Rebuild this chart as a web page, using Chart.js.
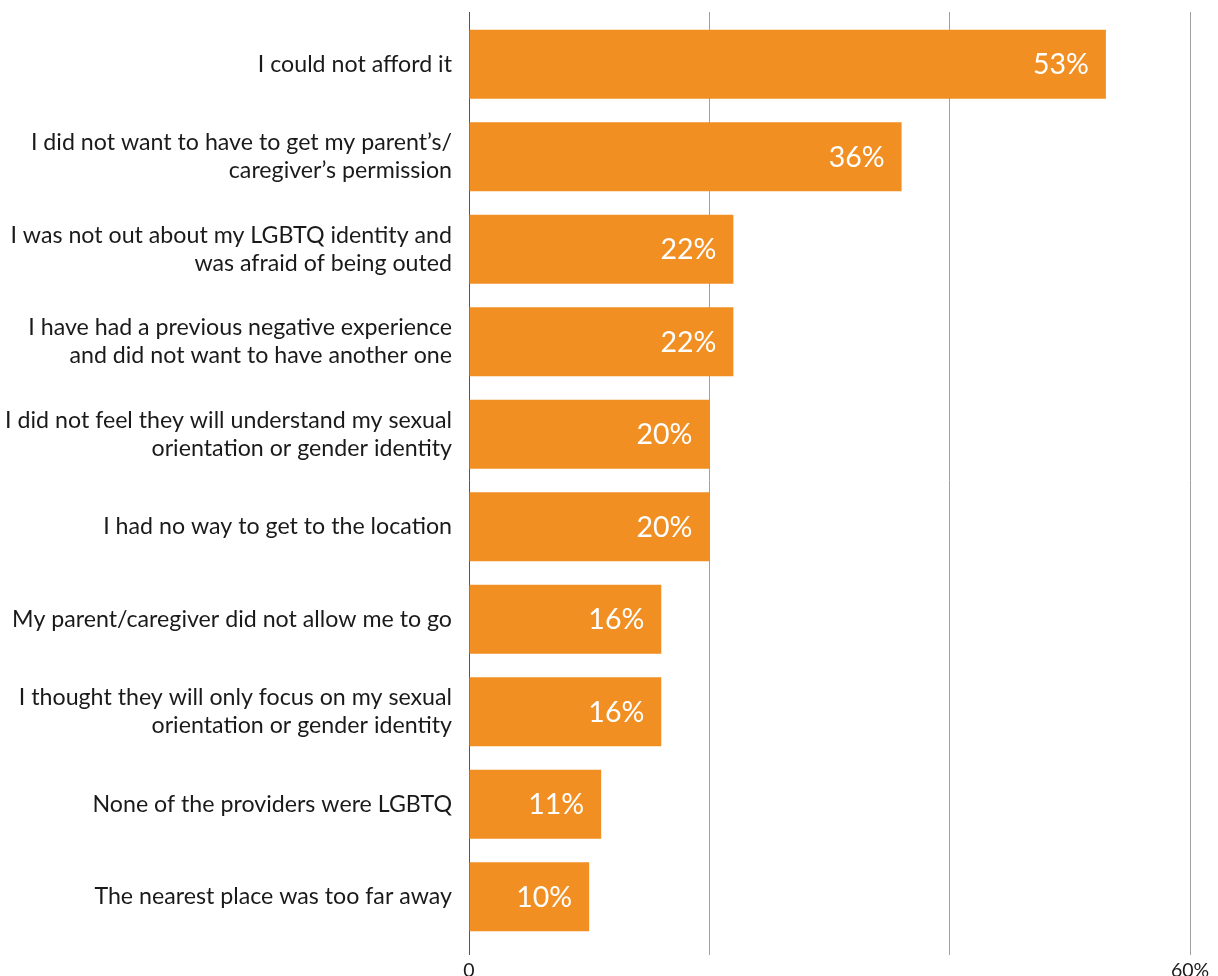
<!DOCTYPE html>
<html>
<head>
<meta charset="utf-8">
<script src="https://cdn.jsdelivr.net/npm/chart.js@4"></script>
<style>
  html, body { margin: 0; padding: 0; background: #fff; }
  #wrap { width: 1218px; height: 976px; }
</style>
</head>
<body>
<div id="wrap"><canvas id="barChart"></canvas></div>
<script>
// reasons for not getting care
var categories = [
  "I could not afford it",
  ["I did not want to have to get my parent\u2019s/", "caregiver\u2019s permission"],
  ["I was not out about my LGBTQ identity and", "was afraid of being outed"],
  ["I have had a previous negative experience", "and did not want to have another one"],
  ["I did not feel they will understand my sexual", "orientation or gender identity"],
  "I had no way to get to the location",
  "My parent/caregiver did not allow me to go",
  ["I thought they will only focus on my sexual", "orientation or gender identity"],
  "None of the providers were LGBTQ",
  "The nearest place was too far away"
];
var values = [53, 36, 22, 22, 20, 20, 16, 16, 11, 10];
var tickLabels = {0: "0", 60: "60%"};

// white % labels at the end of each bar
var valueLabels = {
  id: "valueLabels",
  afterDatasetsDraw: function(chart) {
    var ctx = chart.ctx;
    var meta = chart.getDatasetMeta(0);
    ctx.save();
    ctx.font = "28.5px Lato";
    ctx.fillStyle = "#ffffff";
    ctx.textAlign = "right";
    ctx.textBaseline = "middle";
    meta.data.forEach(function(bar, i) {
      ctx.fillText(values[i] + "%", bar.x - 17, bar.y + 1);
    });
    ctx.restore();
  }
};

// grid lines stick out a little above the plot
var gridTop = {
  id: "gridTop",
  beforeDatasetsDraw: function(chart) {
    var ctx = chart.ctx;
    var xs = chart.scales.x;
    var top = chart.chartArea.top;
    ctx.save();
    ctx.lineWidth = 1;
    xs.ticks.forEach(function(t, i) {
      ctx.strokeStyle = i === 0 ? "#555555" : "#a0a0a0";
      var px = Math.round(xs.getPixelForValue(t.value) - 0.5) + 0.5;
      ctx.beginPath();
      ctx.moveTo(px, top - 6);
      ctx.lineTo(px, top);
      ctx.stroke();
    });
    ctx.restore();
  }
};

var ctx = document.getElementById("barChart").getContext("2d");
var myBarChart = new Chart(ctx, {
  type: "bar",
  data: {
    labels: categories,
    datasets: [{
      data: values,
      backgroundColor: "#F18F22",
      borderWidth: 0,
      categoryPercentage: 1,
      barPercentage: 0.745
    }]
  },
  options: {
    indexAxis: "y",
    responsive: true,
    maintainAspectRatio: false,
    animation: false,
    layout: { padding: { top: 18, right: 28, left: 0, bottom: 0 } },
    plugins: {
      legend: { display: false },
      tooltip: { enabled: false },
      title: { display: false }
    },
    scales: {
      x: {
        min: 0,
        max: 60,
        ticks: {
          stepSize: 20,
          padding: 4,
          autoSkip: false,
          maxRotation: 0,
          color: "#1a1a1a",
          font: { family: "Lato", size: 19.5 },
          callback: function(v) { return tickLabels[v] || ""; }
        },
        grid: {
          color: function(c) { return c.index === 0 ? "#555555" : "#a0a0a0"; },
          lineWidth: 1,
          tickLength: 12,
          drawTicks: true
        },
        border: { display: false },
        afterFit: function(s) { s.height = 33; }
      },
      y: {
        ticks: {
          padding: 17,
          color: "#1a1a1a",
          autoSkip: false,
          font: { family: "Lato", size: 23.2, lineHeight: 1.21 }
        },
        grid: { display: false, drawTicks: false },
        border: { display: false },
        afterFit: function(s) {
          s.width = 469;
          s.paddingTop = 0;
          s.paddingBottom = 0;
        }
      }
    }
  },
  plugins: [valueLabels, gridTop]
});
</script>
</body>
</html>
